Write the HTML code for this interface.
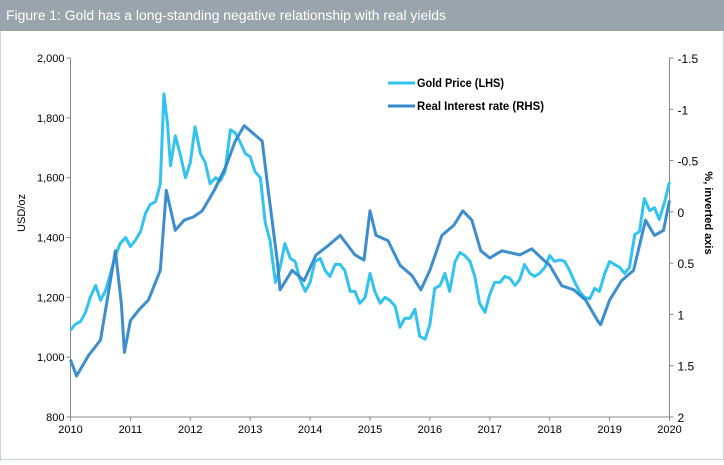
<!DOCTYPE html>
<html><head><meta charset="utf-8"><style>
body{margin:0;width:724px;height:460px;overflow:hidden;background:#fff;font-family:"Liberation Sans",sans-serif}
</style></head><body>
<svg id="c" width="724" height="460" xmlns="http://www.w3.org/2000/svg" font-family="Liberation Sans, sans-serif">
<rect x="0" y="0" width="724" height="460" fill="#fff" stroke="#9aa4ad"/>
<rect x="0" y="0" width="724" height="31" fill="#9aa4ad"/>
<text x="6" y="20" fill="#fff" font-size="13.5" textLength="440" lengthAdjust="spacingAndGlyphs">Figure 1: Gold has a long-standing negative relationship with real yields</text>
<g id="axes"></g>
<g id="series"></g>
<g>
<line x1="388" y1="83" x2="415" y2="83" stroke="#33c3f0" stroke-width="3"/>
<text x="417" y="87" font-size="11.5" font-weight="bold" fill="#000" textLength="87" lengthAdjust="spacingAndGlyphs">Gold Price (LHS)</text>
<line x1="388" y1="106" x2="415" y2="106" stroke="#3388cc" stroke-width="3"/>
<text x="417" y="110" font-size="11.5" font-weight="bold" fill="#000" textLength="127" lengthAdjust="spacingAndGlyphs">Real Interest rate (RHS)</text>
</g>
<text transform="translate(25,213) rotate(-90)" text-anchor="middle" font-size="11">USD/oz</text>
<text transform="translate(705,213) rotate(90)" text-anchor="middle" font-size="11" font-weight="bold">%, inverted axis</text>
</svg>
<script>
const xTicks=[2010,2011,2012,2013,2014,2015,2016,2017,2018,2019,2020];
const leftTicks=[800,1000,1200,1400,1600,1800,2000];
const rightTicks=[-1.5,-1,-0.5,0,0.5,1,1.5,2];
const goldDates=[2010.0,2010.08,2010.17,2010.25,2010.33,2010.42,2010.5,2010.58,2010.67,2010.75,2010.83,2010.92,2011.0,2011.08,2011.17,2011.25,2011.33,2011.42,2011.5,2011.56,2011.62,2011.67,2011.75,2011.83,2011.92,2012.0,2012.08,2012.17,2012.25,2012.33,2012.42,2012.5,2012.58,2012.67,2012.75,2012.83,2012.92,2013.0,2013.08,2013.17,2013.25,2013.33,2013.42,2013.5,2013.58,2013.67,2013.75,2013.83,2013.92,2014.0,2014.08,2014.17,2014.25,2014.33,2014.42,2014.5,2014.58,2014.67,2014.75,2014.83,2014.92,2015.0,2015.08,2015.17,2015.25,2015.33,2015.42,2015.5,2015.58,2015.67,2015.75,2015.83,2015.92,2016.0,2016.08,2016.17,2016.25,2016.33,2016.42,2016.5,2016.58,2016.67,2016.75,2016.83,2016.92,2017.0,2017.08,2017.17,2017.25,2017.33,2017.42,2017.5,2017.58,2017.67,2017.75,2017.83,2017.92,2018.0,2018.08,2018.17,2018.25,2018.33,2018.42,2018.5,2018.58,2018.67,2018.75,2018.83,2018.92,2019.0,2019.08,2019.17,2019.25,2019.33,2019.42,2019.5,2019.58,2019.67,2019.75,2019.83,2019.92,2020.0];
const goldValues=[1090,1110,1120,1150,1200,1240,1190,1220,1280,1340,1380,1400,1370,1390,1420,1480,1510,1520,1580,1880,1780,1640,1740,1680,1600,1650,1770,1680,1650,1580,1600,1590,1620,1760,1750,1720,1680,1670,1620,1600,1450,1390,1250,1300,1380,1330,1320,1260,1220,1250,1320,1330,1290,1270,1310,1310,1290,1220,1220,1180,1200,1280,1220,1180,1200,1190,1170,1100,1130,1130,1160,1070,1060,1110,1230,1240,1280,1220,1320,1350,1340,1320,1270,1180,1150,1210,1250,1250,1270,1265,1240,1260,1310,1280,1270,1280,1300,1340,1320,1325,1320,1290,1250,1220,1200,1195,1230,1220,1280,1320,1310,1300,1280,1300,1410,1420,1530,1490,1500,1460,1520,1585];
const rateDates=[2010.0,2010.1,2010.3,2010.5,2010.75,2010.85,2010.9,2011.0,2011.15,2011.3,2011.5,2011.6,2011.75,2011.9,2012.05,2012.2,2012.4,2012.6,2012.75,2012.9,2013.0,2013.2,2013.3,2013.45,2013.5,2013.7,2013.9,2014.1,2014.3,2014.5,2014.75,2014.9,2015.0,2015.1,2015.3,2015.5,2015.7,2015.85,2016.0,2016.2,2016.4,2016.55,2016.7,2016.85,2017.0,2017.2,2017.5,2017.7,2017.9,2018.0,2018.2,2018.4,2018.6,2018.8,2018.85,2019.0,2019.2,2019.4,2019.6,2019.75,2019.9,2020.0];
const rateValues=[1.44,1.6,1.4,1.25,0.38,0.9,1.37,1.06,0.95,0.86,0.57,-0.21,0.18,0.08,0.05,-0.01,-0.21,-0.45,-0.69,-0.84,-0.79,-0.69,-0.21,0.47,0.76,0.57,0.67,0.42,0.33,0.23,0.42,0.47,-0.01,0.23,0.28,0.52,0.62,0.76,0.57,0.23,0.13,-0.01,0.08,0.38,0.45,0.38,0.42,0.36,0.47,0.52,0.72,0.76,0.86,1.06,1.1,0.86,0.67,0.57,0.08,0.23,0.18,-0.11];

const X0=70.5,X1=669.5,YT=58,YB=417;
const xS=v=>X0+(v-2010)/10*(X1-X0);
const yL=v=>YB-(v-800)/1200*(YB-YT);
const yR=v=>YT+(v+1.5)/3.5*(YB-YT);
const NS='http://www.w3.org/2000/svg';
const axes=document.getElementById('axes'),series=document.getElementById('series');
function mk(tag,attrs,parent){const e=document.createElementNS(NS,tag);for(const k in attrs)e.setAttribute(k,attrs[k]);parent.appendChild(e);return e;}
let e;
e=mk('line',{x1:X0,y1:YT,x2:X0,y2:YB,stroke:'#888'},axes);


e=mk('line',{x1:X1,y1:YT,x2:X1,y2:YB,stroke:'#888'},axes);


e=mk('line',{x1:X0,y1:YB,x2:X1,y2:YB,stroke:'#888'},axes);


leftTicks.forEach(t=>{const y=yL(t);
 e=mk('line',{x1:X0-4,y1:y,x2:X0,y2:y,stroke:'#888'},axes);
 
 
 e=mk('text',{x:X0-6,y:y+4,'text-anchor':'end','font-size':'11'},axes);e.textContent=t.toLocaleString('en-US');
 
 });
rightTicks.forEach(t=>{const y=yR(t);
 e=mk('line',{x1:X1,y1:y,x2:X1+4,y2:y,stroke:'#888'},axes);
 
 
 e=mk('text',{x:X1+8,y:y+5,'font-size':'12'},axes);e.textContent=String(t);
 
 });
xTicks.forEach(t=>{const x=xS(t);
 e=mk('line',{x1:x,y1:YB,x2:x,y2:YB+4,stroke:'#888'},axes);
 
 
 e=mk('text',{x:x,y:YB+16,'text-anchor':'middle','font-size':'11'},axes);e.textContent=t;
 
 });
const gp=goldDates.map((d,i)=>xS(d).toFixed(1)+','+yL(goldValues[i]).toFixed(1)).join(' ');
e=mk('polyline',{points:gp,fill:'none',stroke:'#33c3f0','stroke-width':3,'stroke-linejoin':'round'},series);


const rp=rateDates.map((d,i)=>xS(d).toFixed(1)+','+yR(rateValues[i]).toFixed(1)).join(' ');
e=mk('polyline',{points:rp,fill:'none',stroke:'#3388cc','stroke-width':3,'stroke-linejoin':'round','stroke-opacity':0.95},series);


</script>
</body></html>
